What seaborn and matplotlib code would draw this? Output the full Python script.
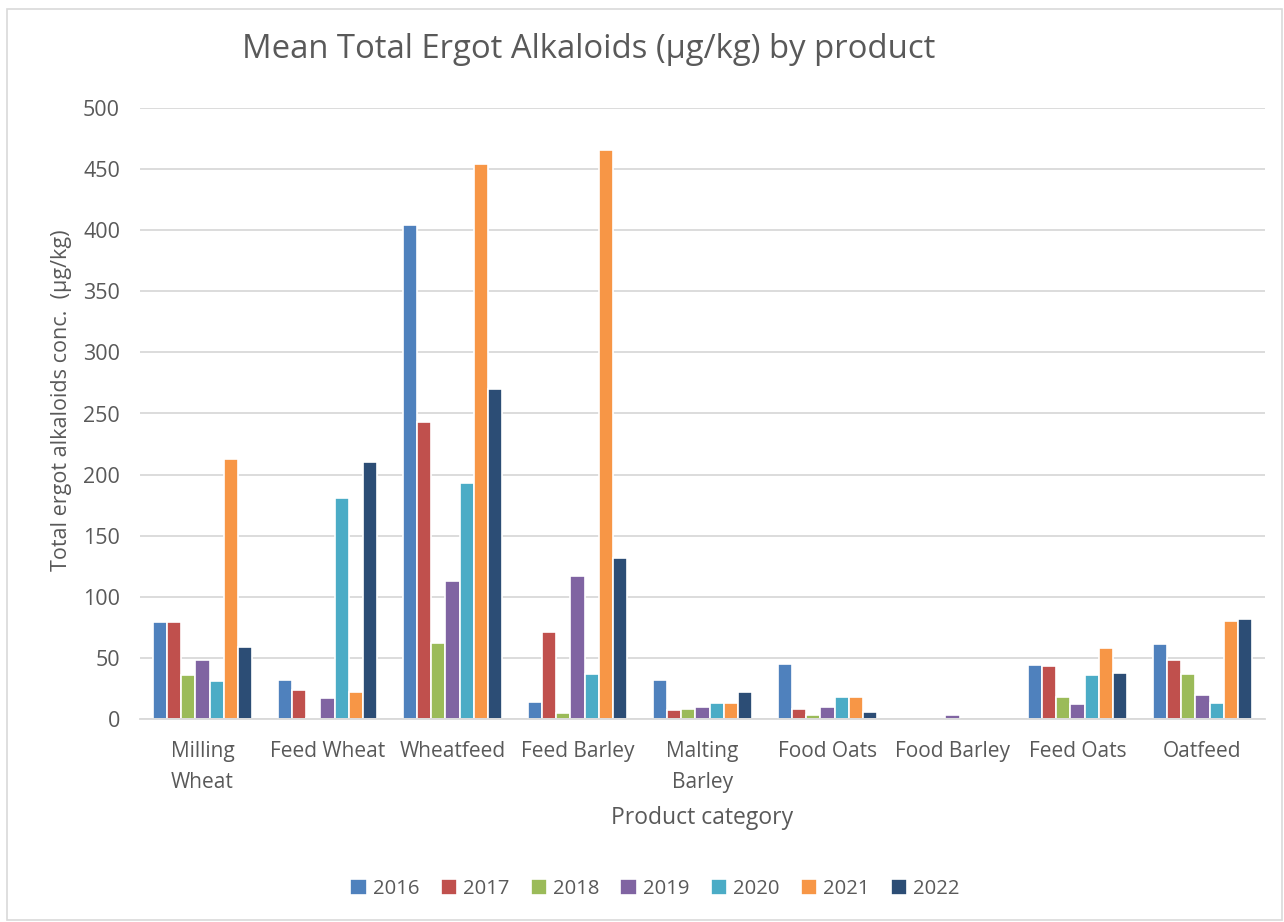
import matplotlib
matplotlib.use("Agg")
import matplotlib.pyplot as plt
import seaborn as sns
import pandas as pd
import numpy as np
from matplotlib.patches import Rectangle

categories = ["Milling\nWheat", "Feed Wheat", "Wheatfeed", "Feed Barley", "Malting\nBarley",
              "Food Oats", "Food Barley", "Feed Oats", "Oatfeed"]
years = ["2016", "2017", "2018", "2019", "2020", "2021", "2022"]
y2016 = [79, 32, 404, 14, 32, 45, np.nan, 44, 61]
y2017 = [79, 24, 243, 71, 7, 8, np.nan, 43, 48]
y2018 = [36, 1, 62, 5, 8, 3, np.nan, 18, 37]
y2019 = [48, 17, 113, 117, 10, 10, 3, 12, 20]
y2020 = [31, 181, 193, 37, 13, 18, np.nan, 36, 13]
y2021 = [213, 22, 454, 466, 13, 18, np.nan, 58, 80]
y2022 = [59, 210, 270, 132, 22, 6, np.nan, 38, 82]
colors = ["#4F81BD", "#C0504D", "#9BBB59", "#8064A2", "#4BACC6", "#F79646", "#2C4D75"]

series = [y2016, y2017, y2018, y2019, y2020, y2021, y2022]
rows = []
for yr, vals in zip(years, series):
    for c, v in zip(categories, vals):
        rows.append({"Product": c, "Year": yr, "Value": v})
df = pd.DataFrame(rows)

sns.set_theme(style="white")
plt.rcParams['font.family'] = ['Open Sans', 'DejaVu Sans']
text_col = "#595959"

fig = plt.figure(figsize=(12.84, 9.22), dpi=100)
ax = fig.add_axes([140/1284, 1-719/922, 1125/1284, (719-108)/922])

sns.barplot(data=df, x="Product", y="Value", hue="Year", order=categories, hue_order=years,
            palette=colors, width=0.79, edgecolor="white", linewidth=1.2, saturation=1,
            errorbar=None, ax=ax, legend=True)

ax.set_ylim(0, 500)
ax.set_yticks(range(0, 501, 50))
ax.yaxis.grid(True, color="#D9D9D9", linewidth=1.3)
ax.set_axisbelow(True)
for s in ["top", "right", "left"]:
    ax.spines[s].set_visible(False)
ax.spines["bottom"].set_color("#D9D9D9")
ax.spines["bottom"].set_linewidth(1.3)
ax.tick_params(axis="both", length=0, colors=text_col)
ax.tick_params(axis="x", pad=16, labelsize=15)
ax.tick_params(axis="y", pad=14.4, labelsize=15.5)
for lbl in ax.get_xticklabels():
    lbl.set_linespacing(1.6)

ax.set_xlabel("Product category", fontsize=16.5, color=text_col)
ax.xaxis.set_label_coords(0.5, -(818-719)/611)
ax.xaxis.label.set_va("center")
ax.set_ylabel("Total ergot alkaloids conc.  (µg/kg)", fontsize=15.5, color=text_col)
ax.yaxis.set_label_coords(-(140-62)/1125, (719-400)/611)
ax.yaxis.label.set_va("center")

fig.text(589/1284, 1-49/922, "Mean Total Ergot Alkaloids (µg/kg) by product",
         ha="center", va="center", fontsize=23.7, color=text_col)

handles, labels = ax.get_legend_handles_labels()
ax.legend_.remove()
fig.legend(handles, labels, loc="center", bbox_to_anchor=(655/1284, 1-889/922), ncol=7,
           frameon=False, fontsize=14.6, labelcolor=text_col, handlelength=0.8, handleheight=0.8,
           handletextpad=0.3, columnspacing=1.05)

fig.patches.append(Rectangle((7/1284, 0.002), 1-9/1284, 1-9/922-0.002, transform=fig.transFigure,
                             fill=False, edgecolor="#D9D9D9", linewidth=1.2))

fig.savefig("out.png", dpi=100, facecolor="white")
